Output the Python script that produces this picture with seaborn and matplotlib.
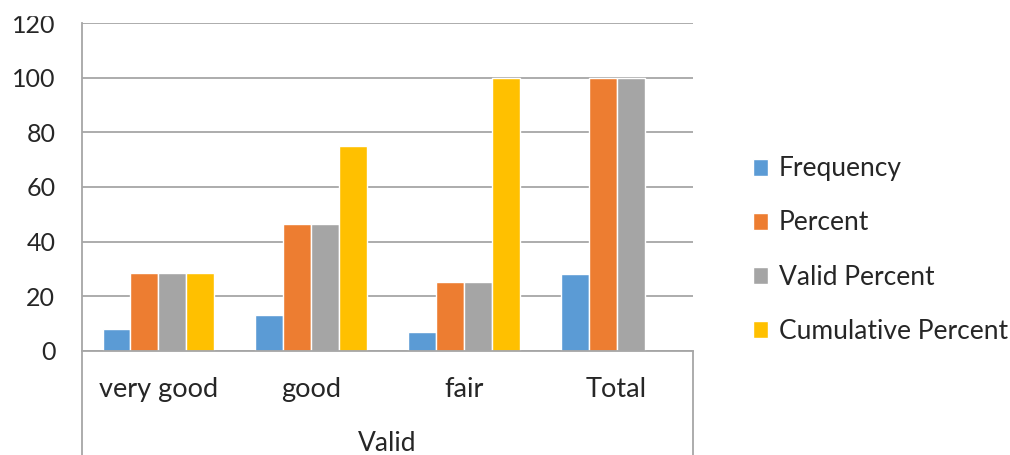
import numpy as np
import pandas as pd
import matplotlib
matplotlib.use('Agg')
import matplotlib.pyplot as plt
import matplotlib.transforms as mtransforms
from matplotlib.patches import Rectangle
import seaborn as sns

# data
categories = ['very good', 'good', 'fair', 'Total']
series = ['Frequency', 'Percent', 'Valid Percent', 'Cumulative Percent']
frequency = [8, 13, 7, 28]
percent = [28.6, 46.4, 25.0, 100.0]
valid_percent = [28.6, 46.4, 25.0, 100.0]
cumulative_percent = [28.6, 75.0, 100.0, np.nan]
y_ticks = [0, 20, 40, 60, 80, 100, 120]
group_label = 'Valid'

colors = ['#5B9BD5', '#ED7D31', '#A5A5A5', '#FFC000']
grid_color = '#A6A6A6'
text_color = '#262626'

sns.set_style('white')
plt.rcParams['font.family'] = ['Lato', 'DejaVu Sans']
plt.rcParams['text.color'] = text_color

values = {'Frequency': frequency, 'Percent': percent,
          'Valid Percent': valid_percent, 'Cumulative Percent': cumulative_percent}
rows = []
for s in series:
    for cat, v in zip(categories, values[s]):
        rows.append({'category': cat, 'series': s, 'value': v})
df = pd.DataFrame(rows)

W, H = 1010, 455
fig = plt.figure(figsize=(W / 100, H / 100), dpi=100)
ax = fig.add_axes([82 / W, (H - 350.7) / H, (693 - 82) / W, 327.6 / H])

sns.barplot(data=df, x='category', y='value', hue='series', order=categories,
            hue_order=series, palette=colors, saturation=1, width=0.73, gap=0,
            errorbar=None, ax=ax)

ax.set_xlim(-0.5, 3.5)
ax.set_ylim(0, 120)
ax.set_yticks(y_ticks)
ax.yaxis.grid(True, color=grid_color, lw=1.3)
ax.set_axisbelow(True)
ax.set_xlabel('')
ax.set_ylabel('')

for side in ['top', 'right']:
    ax.spines[side].set_visible(False)
for side in ['left', 'bottom']:
    ax.spines[side].set_color(grid_color)
    ax.spines[side].set_linewidth(1.3)

ax.tick_params(axis='y', length=7.2, width=1.3, color=grid_color,
               labelsize=18, pad=12, labelcolor=text_color)

# category separators as major ticks, labels as minor ticks
ax.set_xticks(np.arange(-0.5, len(categories), 1.0))
ax.set_xticklabels([])
ax.set_xticks(range(len(categories)), minor=True)
ax.set_xticklabels(categories, minor=True)
ax.tick_params(axis='x', which='major', length=42, width=1.3, color=grid_color)
ax.tick_params(axis='x', which='minor', length=0, labelsize=19.5, pad=19,
               labelcolor=text_color)

# outer group lines running to the bottom edge
trans = mtransforms.blended_transform_factory(ax.transData, ax.transAxes)
for xb in [-0.5, len(categories) - 0.5]:
    ax.plot([xb, xb], [0, -0.45], transform=trans, color=grid_color, lw=1.3,
            clip_on=False)
ax.text(1.5, -0.245, group_label, transform=trans, ha='center', va='top',
        fontsize=19, color=text_color)

ax.legend(loc='center left', bbox_to_anchor=(742 / W, 1 - 250 / H),
          bbox_transform=fig.transFigure, frameon=False, fontsize=19,
          handlelength=0.6, handleheight=0.6, handletextpad=0.4,
          labelspacing=1.1, borderaxespad=0)

# reference image is clipped at the top
fig.patches.append(Rectangle((0, 1 - 15 / H), 1, 15 / H, transform=fig.transFigure,
                             color='white', zorder=10))

fig.savefig('out.png', dpi=100)
